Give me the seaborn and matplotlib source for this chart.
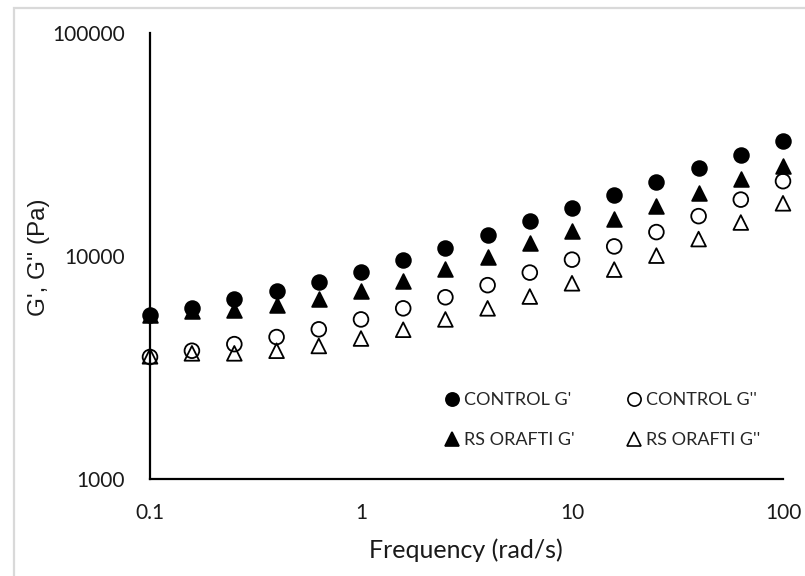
import matplotlib
matplotlib.use("Agg")
import matplotlib.pyplot as plt
import seaborn as sns
import pandas as pd
from matplotlib.patches import Rectangle
from matplotlib.lines import Line2D

# ---- data ----
frequency = [0.1, 0.158, 0.251, 0.398, 0.631, 1.0, 1.585, 2.512, 3.981,
             6.31, 10.0, 15.85, 25.12, 39.81, 63.1, 100.0]
control_g1 = [5440, 5870, 6410, 6970, 7660, 8520, 9550, 10870, 12470,
              14360, 16400, 18740, 21580, 24730, 28270, 32660]
control_g2 = [3525, 3760, 4025, 4330, 4690, 5195, 5825, 6530, 7400,
              8425, 9630, 11040, 12800, 15090, 17900, 21650]
rs_g1 = [5440, 5650, 5715, 6050, 6410, 6970, 7750, 8750, 9920,
         11420, 12950, 14690, 16780, 19100, 22070, 25220]
rs_g2 = [3550, 3660, 3660, 3760, 3950, 4265, 4670, 5195, 5825,
         6580, 7545, 8690, 10040, 11910, 14130, 17230]
series_names = ["CONTROL G'", "CONTROL G''", "RS ORAFTI G'", "RS ORAFTI G''"]
x_ticks = [0.1, 1, 10, 100]
x_tick_labels = ["0.1", "1", "10", "100"]
y_ticks = [1000, 10000, 100000]
y_tick_labels = ["1000", "10000", "100000"]

sns.set_style("white")
plt.rcParams["font.family"] = ["Lato", "DejaVu Sans"]

W, H = 805, 576
fig = plt.figure(figsize=(W / 100, H / 100), dpi=100)
ax = fig.add_axes([150 / W, 1 - 479 / H, (783 - 150) / W, (479 - 33) / H])

# outer light frame (top and left edges visible)
fig.add_artist(Rectangle((13.5 / W, -0.05), 1.2, (H - 7.5) / H + 0.05,
                         transform=fig.transFigure, fill=False,
                         edgecolor="#d9d9d9", linewidth=1.6, zorder=0,
                         clip_on=False))

df = pd.DataFrame({"freq": frequency})
for name, vals in zip(series_names, [control_g1, control_g2, rs_g1, rs_g2]):
    df[name] = vals

styles = {
    "CONTROL G'": dict(marker="o", facecolor="black"),
    "RS ORAFTI G'": dict(marker="^", facecolor="black"),
    "CONTROL G''": dict(marker="o", facecolor="none"),
    "RS ORAFTI G''": dict(marker="^", facecolor="none"),
}
draw_order = ["RS ORAFTI G''", "CONTROL G''", "RS ORAFTI G'", "CONTROL G'"]
for i, name in enumerate(draw_order):
    st = styles[name]
    sns.scatterplot(data=df, x="freq", y=name, ax=ax, marker=st["marker"],
                    s=112, facecolor=st["facecolor"], edgecolor="black",
                    linewidth=1.3, clip_on=False, zorder=5 + i, legend=False)

ax.set_xscale("log")
ax.set_yscale("log")
ax.set_xlim(0.1, 100)
ax.set_ylim(1000, 100000)
ax.set_xticks(x_ticks)
ax.set_xticklabels(x_tick_labels)
ax.set_yticks(y_ticks)
ax.set_yticklabels(y_tick_labels)
ax.minorticks_off()
ax.tick_params(axis="both", length=0, labelsize=15, colors="#1a1a1a")
ax.tick_params(axis="y", pad=18)
ax.tick_params(axis="x", pad=17)

for side in ["top", "right"]:
    ax.spines[side].set_visible(False)
for side in ["left", "bottom"]:
    ax.spines[side].set_color("black")
    ax.spines[side].set_linewidth(1.6)
    ax.spines[side].set_zorder(3)

ax.set_xlabel("Frequency (rad/s)", fontsize=18, color="#1a1a1a")
ax.xaxis.set_label_coords((466 - 150) / 633, -(550 - 479) / 446)
ax.xaxis.label.set_va("center")
ax.set_ylabel("G', G'' (Pa)", fontsize=17.5, color="#1a1a1a",
              family=["Liberation Sans", "DejaVu Sans"])
ax.yaxis.set_label_coords(-(150 - 39) / 633, (479 - 257) / 446)
ax.yaxis.label.set_va("center")

legend_order = ["CONTROL G'", "RS ORAFTI G'", "CONTROL G''", "RS ORAFTI G''"]
handles = []
for name in legend_order:
    st = styles[name]
    handles.append(Line2D([], [], linestyle="none", marker=st["marker"],
                          markersize=9.5, markerfacecolor=st["facecolor"],
                          markeredgecolor="black", markeredgewidth=1.2))
leg = ax.legend(handles, legend_order, ncol=2, frameon=False,
                loc="upper left", bbox_to_anchor=(436 / W, 1 - 383 / H),
                bbox_transform=fig.transFigure,
                prop={"family": ["Lato"], "size": 13},
                handlelength=0.8, handletextpad=0.25, columnspacing=2.9,
                labelspacing=1.35, borderpad=0)

fig.savefig("out.png", dpi=100)
